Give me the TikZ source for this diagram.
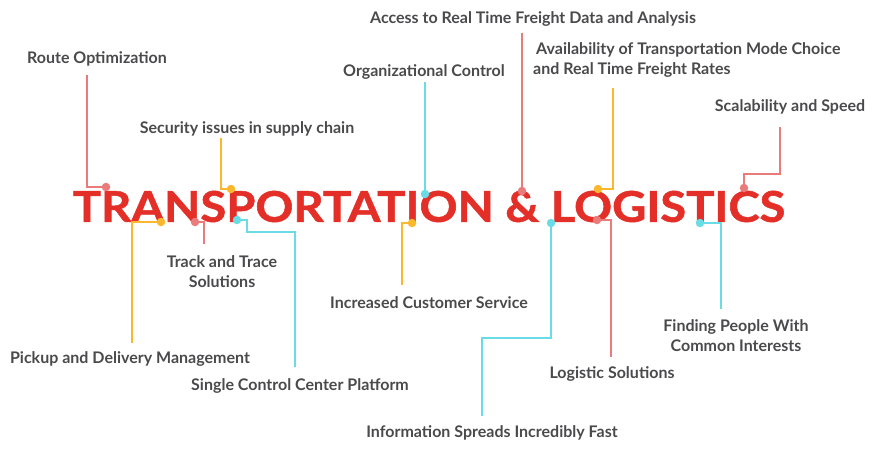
\documentclass[tikz,border=0pt]{standalone}
\usepackage{fontspec}
\setmainfont{Lato}
\newfontfamily\titlefont{Lato}[BoldFeatures={FakeBold=1.2}]
\definecolor{titlered}{HTML}{E32F28}
\definecolor{lblgray}{HTML}{4A4A4C}
\definecolor{cpink}{HTML}{E97B7B}
\definecolor{cyellow}{HTML}{FBB82C}
\definecolor{ccyan}{HTML}{6ADCE5}
\begin{document}
\begin{tikzpicture}[x=1pt,y=-1pt,
  lbl/.style={text=lblgray, font=\fontsize{16}{20}\selectfont\bfseries, inner sep=0pt, align=center},
  dotmark/.style={circle, fill=#1, minimum size=8.5pt, inner sep=0pt},
  conn/.style={draw=#1, line width=2pt}]
\useasboundingbox (0,0) rectangle (872,451);
% title
\node[inner sep=0pt] (title) at (429,206.5) {\resizebox{712pt}{31pt}{\color{titlered}\titlefont\bfseries TRANSPORTATION \& LOGISTICS}};
% labels
\node[lbl] (l1) at (97,58.5) {Route Optimization};
\node[lbl] (l2) at (247,128.5) {Security issues in supply chain};
\node[lbl] (l3) at (424,71.5) {Organizational Control};
\node[lbl] (l4) at (533,18.5) {Access to Real Time Freight Data and Analysis};
\node[lbl, align=left, anchor=west] (l5) at (533,59.5) {\hspace{3pt}Availability of Transportation Mode Choice\\and Real Time Freight Rates};
\node[lbl] (l6) at (790,106.5) {Scalability and Speed};
\node[lbl] (l7) at (130,358.5) {Pickup and Delivery Management};
\node[lbl] (l8) at (222,271.5) {Track and Trace\\Solutions};
\node[lbl] (l9) at (300,385.5) {Single Control Center Platform};
\node[lbl] (l10) at (429,302.5) {Increased Customer Service};
\node[lbl] (l11) at (492,432.5) {Information Spreads Incredibly Fast};
\node[lbl] (l12) at (612,373.5) {Logistic Solutions};
\node[lbl] (l13) at (736,335.5) {Finding People With\\Common Interests};
% line ends and dot positions
\coordinate (e1) at (87,75);   \coordinate (p1) at (106,187);
\coordinate (e2) at (221,138); \coordinate (p2) at (231,189);
\coordinate (e3) at (425,82);  \coordinate (p3) at (425,194);
\coordinate (e4) at (522,33);  \coordinate (p4) at (522,191);
\coordinate (e5) at (613,88);  \coordinate (p5) at (598,189);
\coordinate (e6) at (780,127); \coordinate (p6) at (744,188);
\coordinate (e7) at (132,343); \coordinate (p7) at (161,222);
\coordinate (e8) at (204,244); \coordinate (p8) at (195,222);
\coordinate (e9) at (295,367); \coordinate (p9) at (237,220);
\coordinate (e10) at (402,285); \coordinate (p10) at (412,223);
\coordinate (e11) at (482,416); \coordinate (p11) at (551,223);
\coordinate (e12) at (611,357); \coordinate (p12) at (597,220);
\coordinate (e13) at (721,309); \coordinate (p13) at (700,223);
% connectors
\draw[conn=cpink] (e1) |- (p1);
\draw[conn=cyellow] (e2) |- (p2);
\draw[conn=ccyan] (e3) -- (p3);
\draw[conn=cpink] (e4) -- (p4);
\draw[conn=cyellow] (e5) |- (p5);
\draw[conn=cpink] (e6) -- ++(0,47) -| (p6);
\draw[conn=cyellow] (p7) -| (e7);
\draw[conn=cpink] (p8) -| (e8);
\draw[conn=ccyan] (p9) -| (247,232) -| (e9);
\draw[conn=cyellow] (p10) -| (e10);
\draw[conn=ccyan] (p11) -- (551,338) -| (e11);
\draw[conn=cpink] (p12) -| (e12);
\draw[conn=ccyan] (p13) -| (e13);
% dots
\node[dotmark=cpink] (d1) at (p1) {};
\node[dotmark=cyellow] (d2) at (p2) {};
\node[dotmark=ccyan] (d3) at (p3) {};
\node[dotmark=cpink] (d4) at (p4) {};
\node[dotmark=cyellow] (d5) at (p5) {};
\node[dotmark=cpink] (d6) at (p6) {};
\node[dotmark=cyellow] (d7) at (p7) {};
\node[dotmark=cpink] (d8) at (p8) {};
\node[dotmark=ccyan] (d9) at (p9) {};
\node[dotmark=cyellow] (d10) at (p10) {};
\node[dotmark=ccyan] (d11) at (p11) {};
\node[dotmark=cpink] (d12) at (p12) {};
\node[dotmark=ccyan] (d13) at (p13) {};
\end{tikzpicture}
\end{document}
